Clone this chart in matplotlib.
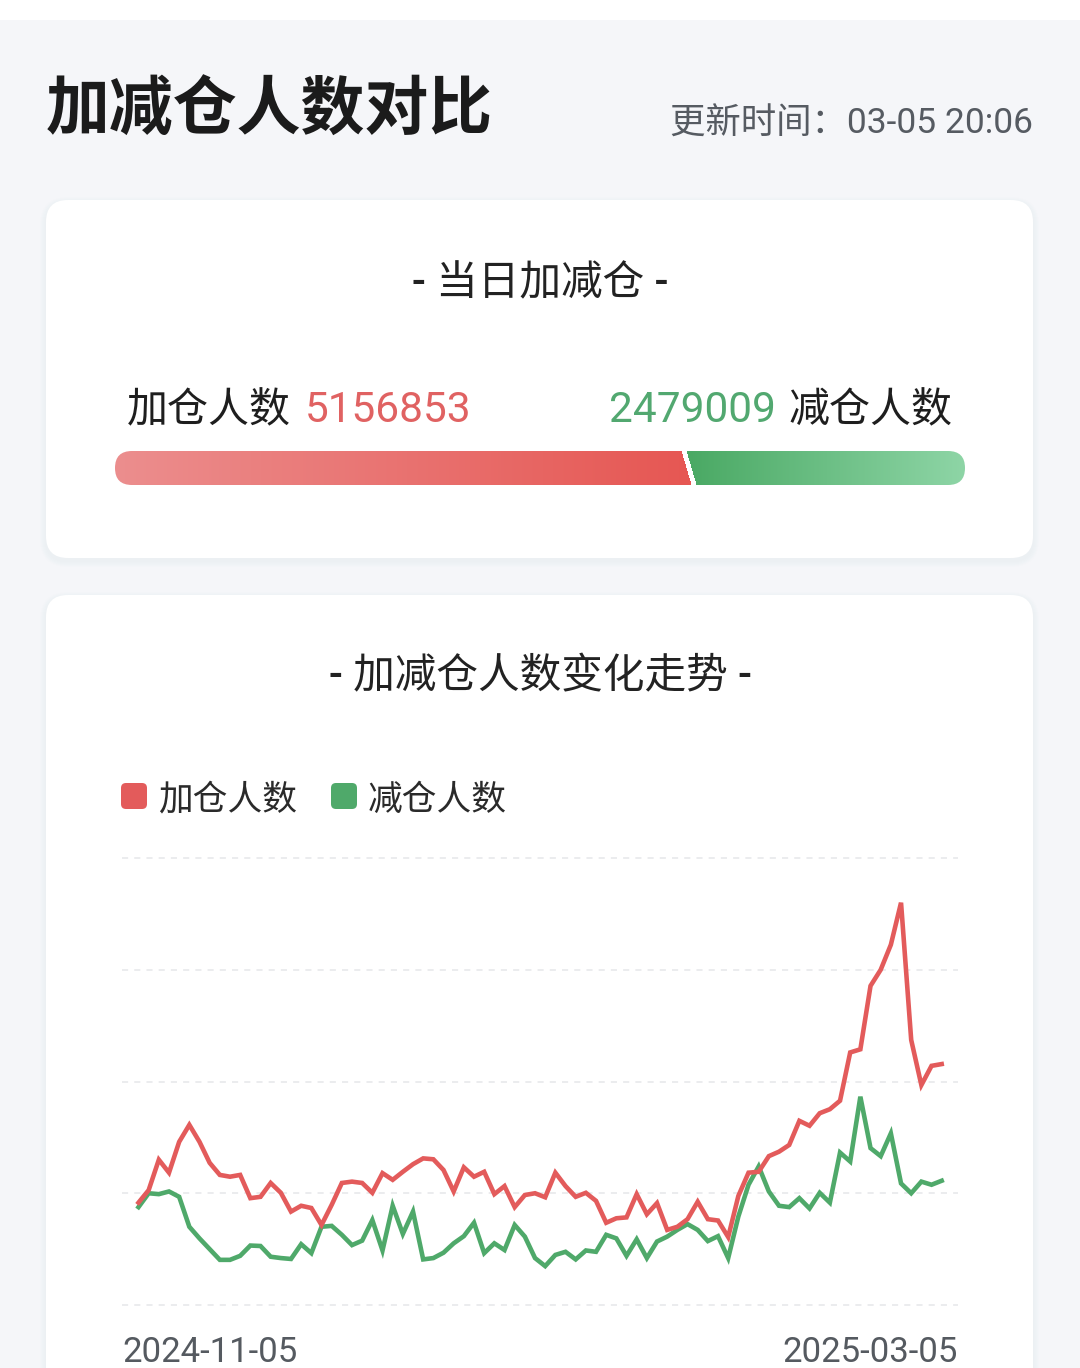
import matplotlib

matplotlib.use("Agg")
import matplotlib.pyplot as plt
import numpy as np
from matplotlib.colors import to_rgb
from matplotlib.patches import FancyBboxPatch, Rectangle

plt.rcParams["font.family"] = ["Roboto", "Noto Sans CJK SC", "DejaVu Sans"]

# ---------- 数据 ----------
TITLE = "加减仓人数对比"
UPDATE_TIME = "更新时间：03-05 20:06"
TODAY_TITLE = "- 当日加减仓 -"
TREND_TITLE = "- 加减仓人数变化走势 -"
SERIES_NAMES = ["加仓人数", "减仓人数"]
ADD_TODAY = 5156853
SUB_TODAY = 2479009
DATE_LABELS = ["2024-11-05", "2025-03-05"]

# 每日人数（百万），读图估计
add_people = [
    2.29, 2.57, 3.25, 2.96, 3.65, 4.03, 3.65, 3.18, 2.91, 2.87,
    2.91, 2.39, 2.42, 2.73, 2.51, 2.09, 2.22, 2.17, 1.79, 2.24,
    2.73, 2.76, 2.73, 2.51, 2.95, 2.80, 2.98, 3.15, 3.28, 3.26,
    3.02, 2.54, 3.08, 2.87, 2.98, 2.48, 2.66, 2.19, 2.46, 2.50,
    2.41, 2.96, 2.66, 2.42, 2.51, 2.33, 1.84, 1.94, 1.96, 2.48,
    2.03, 2.28, 1.68, 1.75, 1.92, 2.31, 1.92, 1.89, 1.52, 2.44,
    2.96, 2.98, 3.33, 3.43, 3.58, 4.12, 4.01, 4.29, 4.38, 4.57,
    5.65, 5.72, 7.14, 7.50, 8.06, 9.00, 5.93, 4.92, 5.35, 5.39,
]
sub_people = [
    2.19, 2.50, 2.48, 2.54, 2.42, 1.75, 1.49, 1.25, 1.01, 1.01,
    1.10, 1.33, 1.32, 1.08, 1.05, 1.03, 1.36, 1.16, 1.75, 1.77,
    1.57, 1.34, 1.44, 1.90, 1.22, 2.22, 1.59, 2.09, 1.02, 1.05,
    1.17, 1.38, 1.54, 1.84, 1.16, 1.38, 1.23, 1.79, 1.53, 1.05,
    0.87, 1.12, 1.19, 1.02, 1.22, 1.19, 1.57, 1.49, 1.10, 1.47,
    1.05, 1.42, 1.53, 1.68, 1.81, 1.68, 1.43, 1.54, 1.05, 1.98,
    2.69, 3.10, 2.54, 2.22, 2.19, 2.39, 2.16, 2.51, 2.29, 3.41,
    3.21, 4.66, 3.51, 3.33, 3.84, 2.72, 2.50, 2.76, 2.69, 2.78,
]

RED = "#e35b5b"
GREEN = "#4fa96a"
BG = "#f5f6f9"
W, H = 1080, 1368


def card(ax, x0, y0, x1, y1, r=22):
    # 柔和阴影
    for k in range(6, 0, -1):
        ax.add_patch(FancyBboxPatch((x0 - k, y0 - k + 3), x1 - x0 + 2 * k, y1 - y0 + 2 * k,
                                    boxstyle=f"round,pad=0,rounding_size={r + k}",
                                    fc="#9aa4c0", ec="none", alpha=0.012, zorder=1))
    ax.add_patch(FancyBboxPatch((x0, y0), x1 - x0, y1 - y0,
                                boxstyle=f"round,pad=0,rounding_size={r}",
                                fc="white", ec="none", zorder=2))


def ratio_bar(ax, x0, x1, y0, y1, frac):
    w, h = int(x1 - x0), int(y1 - y0)
    split = x0 + frac * (x1 - x0)
    xs = np.arange(w)[None, :] + x0 + 0.5
    ys = np.arange(h)[:, None] + 0.5
    cut = split + 10 * (ys / h - 0.5)
    r0, r1 = np.array(to_rgb("#ec8e8e")), np.array(to_rgb("#e65753"))
    g0, g1 = np.array(to_rgb("#4aa964")), np.array(to_rgb("#8ed5a6"))
    tr = np.clip((xs - x0) / (split - x0), 0, 1)[..., None]
    tg = np.clip((xs - split) / (x1 - split), 0, 1)[..., None]
    red = r0 + (r1 - r0) * tr
    green = g0 + (g1 - g0) * tg
    left = (xs < cut - 2.5)[..., None]
    right = (xs > cut + 2.5)[..., None]
    img = np.where(left, red, np.where(right, green, np.ones(3)))
    im = ax.imshow(img, extent=(x0, x1, y1, y0), origin="upper",
                   interpolation="bilinear", zorder=3, aspect="auto")
    clip = FancyBboxPatch((x0, y0), x1 - x0, y1 - y0,
                          boxstyle=f"round,pad=0,rounding_size={h / 2}",
                          transform=ax.transData, fc="none", ec="none")
    im.set_clip_path(clip)


fig = plt.figure(figsize=(W / 100, H / 100), dpi=100)
fig.patch.set_facecolor(BG)

bg = fig.add_axes([0, 0, 1, 1])
bg.set_xlim(0, W)
bg.set_ylim(H, 0)
bg.axis("off")
bg.add_patch(Rectangle((0, 0), W, 20, fc="white", ec="none", zorder=1))

# 标题栏
bg.text(46, 112, TITLE, fontsize=46, fontweight="bold", color="#1b1b1b",
        ha="left", va="center", zorder=5)
bg.text(1033, 124, UPDATE_TIME, fontsize=25.5, color="#565b62",
        ha="right", va="center", zorder=5)

# 卡片 1：当日加减仓
card(bg, 46, 200, 1033, 558)
bg.text(540, 284, TODAY_TITLE, fontsize=30, fontweight="medium", color="#222222",
        ha="center", va="center", zorder=5)
bg.text(127, 411, SERIES_NAMES[0], fontsize=29.5, fontweight="medium",
        color="#1e1e1e", ha="left", va="center", zorder=5)
bg.text(305, 411, f"{ADD_TODAY}", fontsize=30.5, color="#e06262",
        ha="left", va="center", zorder=5)
bg.text(952, 411, SERIES_NAMES[1], fontsize=29.5, fontweight="medium",
        color="#1e1e1e", ha="right", va="center", zorder=5)
bg.text(776, 411, f"{SUB_TODAY}", fontsize=30.5, color="#52a870",
        ha="right", va="center", zorder=5)
ratio_bar(bg, 115, 965, 451, 485, ADD_TODAY / (ADD_TODAY + SUB_TODAY))

# 卡片 2：走势
card(bg, 46, 595, 1033, 1420)
bg.text(540, 677, TREND_TITLE, fontsize=30, fontweight="medium", color="#222222",
        ha="center", va="center", zorder=5)
for i, (name, c) in enumerate(zip(SERIES_NAMES, [RED, GREEN])):
    lx = 121 + i * 210
    bg.add_patch(FancyBboxPatch((lx, 783), 26, 26, boxstyle="round,pad=0,rounding_size=5",
                                fc=c, ec="none", zorder=5))
    bg.text(lx + 37, 800, name, fontsize=25, color="#2a2a2a",
            ha="left", va="center", zorder=5)

# 折线图
px_l, px_r, px_t, px_b = 122, 958, 858, 1305
ax = fig.add_axes([px_l / W, 1 - px_b / H, (px_r - px_l) / W, (px_b - px_t) / H])
ax.set_facecolor("none")
n = len(add_people)
x = np.arange(n)
unit = (941.7 - 138.5) / (n - 1)
ax.set_xlim(-(138.5 - px_l) / unit, (n - 1) + (px_r - 941.7) / unit)
ax.set_ylim(0, 10)
for v in np.arange(0, 10.01, 2.5):
    ax.axhline(v, color="#e6e7ea", lw=1.1, ls=(0, (4, 4)), zorder=1, clip_on=False)
ax.plot(x, sub_people, color=GREEN, lw=3.3, solid_joinstyle="miter", zorder=3)
ax.plot(x, add_people, color=RED, lw=3.3, solid_joinstyle="miter", zorder=4)
for s in ax.spines.values():
    s.set_visible(False)
ax.set_xticks([])
ax.set_yticks([])

bg.text(px_l, 1352, DATE_LABELS[0], fontsize=25, color="#555a60",
        ha="left", va="center", zorder=5)
bg.text(px_r, 1352, DATE_LABELS[1], fontsize=25, color="#555a60",
        ha="right", va="center", zorder=5)

fig.savefig("out.png", dpi=100, facecolor=fig.get_facecolor())
